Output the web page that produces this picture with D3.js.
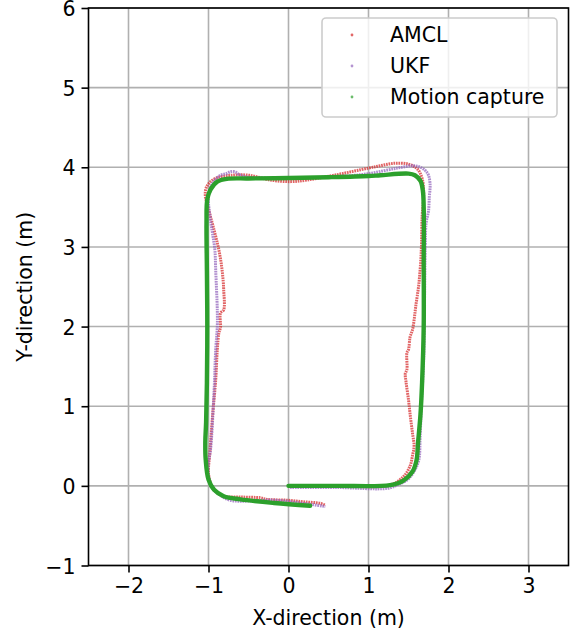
<!DOCTYPE html>
<html>
<head>
<meta charset="utf-8">
<script src="https://cdn.jsdelivr.net/npm/d3@7"></script>
<style>
  html, body { margin: 0; padding: 0; background: #fff; }
  svg { display: block; font-family: "DejaVu Sans", sans-serif; }
</style>
</head>
<body>
<svg id="chart" width="574" height="632"></svg>
<script>
// Trajectory traces [x, y] in metres
const amcl = [
  [0.00,0.00],[0.60,0.00],[1.27,0.01],[1.44,0.12],[1.52,0.25],[1.55,0.38],[1.57,0.50],[1.55,0.66],
  [1.52,0.90],[1.50,1.08],[1.47,1.30],[1.46,1.41],[1.48,1.46],[1.48,1.67],[1.50,1.71],[1.52,1.87],
  [1.55,1.96],[1.57,2.08],[1.59,2.25],[1.63,2.54],[1.66,2.96],[1.67,3.38],[1.69,3.67],[1.67,3.86],
  [1.61,3.98],[1.50,4.04],[1.32,4.05],[1.15,4.02],[1.00,3.99],[0.57,3.90],[0.23,3.84],[0.03,3.82],
  [-0.23,3.84],[-0.49,3.90],[-0.72,3.90],[-0.89,3.87],[-0.975,3.82],[-1.03,3.74],[-1.04,3.64],
  [-1.02,3.55],[-0.93,3.21],[-0.87,2.96],[-0.83,2.71],[-0.81,2.46],[-0.81,2.21],[-0.85,2.17],
  [-0.85,1.99],[-0.87,1.92],[-0.89,1.71],[-0.91,1.33],[-0.95,0.87],[-0.98,0.45],[-1.00,0.16],
  [-0.97,0.02],[-0.93,-0.05],[-0.81,-0.13],[-0.60,-0.14],[-0.35,-0.15],[-0.27,-0.17],[-0.02,-0.18],
  [0.19,-0.20],[0.40,-0.22],[0.46,-0.245]
];
const ukf = [
  [0.02,-0.02],[0.60,-0.02],[1.24,-0.03],[1.38,0.02],[1.49,0.08],[1.58,0.20],[1.63,0.33],[1.645,0.60],
  [1.66,1.00],[1.69,1.60],[1.70,2.30],[1.71,3.00],[1.72,3.30],[1.75,3.45],[1.76,3.62],[1.77,3.78],
  [1.75,3.90],[1.71,3.96],[1.65,4.00],[1.57,4.02],[1.36,3.99],[1.00,3.92],[0.65,3.885],[0.30,3.87],
  [0.00,3.865],[-0.50,3.875],[-0.62,3.91],[-0.66,3.94],[-0.72,3.945],[-0.78,3.92],[-0.85,3.90],
  [-0.95,3.80],[-1.00,3.63],[-0.975,3.34],[-0.95,3.17],[-0.92,2.96],[-0.91,2.71],[-0.89,2.20],
  [-0.89,2.00],[-0.91,1.71],[-0.93,1.20],[-0.975,0.45],[-1.00,0.30],[-1.00,0.12],[-0.95,-0.03],
  [-0.89,-0.09],[-0.73,-0.18],[-0.18,-0.18],[0.19,-0.22],[0.46,-0.26]
];
const mocap = [
  [0.00,0.00],[0.60,0.00],[1.27,0.01],[1.44,0.07],[1.55,0.18],[1.60,0.32],[1.62,0.55],[1.65,0.90],
  [1.67,1.30],[1.69,2.00],[1.69,2.80],[1.69,3.50],[1.68,3.70],[1.65,3.83],[1.58,3.90],[1.50,3.92],
  [1.15,3.90],[1.00,3.89],[0.50,3.875],[0.00,3.865],[-0.50,3.86],[-0.77,3.855],[-0.89,3.82],
  [-0.975,3.72],[-1.015,3.60],[-1.025,3.30],[-1.02,2.70],[-1.015,2.00],[-1.02,1.30],[-1.03,0.80],
  [-1.04,0.55],[-1.035,0.33],[-1.00,0.08],[-0.93,-0.05],[-0.81,-0.13],[-0.60,-0.17],[-0.18,-0.215],
  [0.27,-0.25]
];

const seriesNames = ["AMCL", "UKF", "Motion capture"];
const seriesColors = ["#d62728", "#9467bd", "#2ca02c"];
const xTicks = [-2, -1, 0, 1, 2, 3];
const yTicks = [-1, 0, 1, 2, 3, 4, 5, 6];
const xDomain = [-2.5, 3.5];
const yDomain = [-1, 6];

const svg = d3.select("#chart");
const plotLeft = 88.5, plotRight = 568.5, plotTop = 8, plotBottom = 565.5;
const FS = 20.5;

const x = d3.scaleLinear().domain(xDomain).range([plotLeft, plotRight]);
const y = d3.scaleLinear().domain(yDomain).range([plotBottom, plotTop]);

// grid
const grid = svg.append("g");
grid.selectAll("line.gx").data(xTicks).join("line").attr("class", "gx")
  .attr("x1", d => x(d)).attr("x2", d => x(d)).attr("y1", plotTop).attr("y2", plotBottom)
  .attr("stroke", "#b0b0b0").attr("stroke-width", 1.6);
grid.selectAll("line.gy").data(yTicks).join("line").attr("class", "gy")
  .attr("y1", d => y(d)).attr("y2", d => y(d)).attr("x1", plotLeft).attr("x2", plotRight)
  .attr("stroke", "#b0b0b0").attr("stroke-width", 1.6);

// traces
const line = d3.line().x(d => x(d[0])).y(d => y(d[1])).curve(d3.curveCatmullRom.alpha(0.5));
const plot = svg.append("g");
plot.append("path").datum(amcl).attr("d", line)
  .attr("fill", "none").attr("stroke", seriesColors[0]).attr("stroke-opacity", 0.72)
  .attr("stroke-width", 3).attr("stroke-dasharray", "1.7 0.8");
plot.append("path").datum(ukf).attr("d", line)
  .attr("fill", "none").attr("stroke", seriesColors[1]).attr("stroke-opacity", 0.75)
  .attr("stroke-width", 3).attr("stroke-dasharray", "1.7 0.8");
plot.append("path").datum(mocap).attr("d", line)
  .attr("fill", "none").attr("stroke", seriesColors[2])
  .attr("stroke-width", 4.4).attr("stroke-linejoin", "round").attr("stroke-linecap", "round");

// axes
const xAxis = d3.axisBottom(x).tickValues(xTicks).tickSize(7).tickPadding(6)
  .tickFormat(d3.format("d"));
const yAxis = d3.axisLeft(y).tickValues(yTicks).tickSize(7).tickPadding(6)
  .tickFormat(d3.format("d"));
const gx = svg.append("g").attr("transform", `translate(0,${plotBottom})`).call(xAxis);
const gy = svg.append("g").attr("transform", `translate(${plotLeft},0)`).call(yAxis);
[gx, gy].forEach(g => {
  g.select(".domain").remove();
  g.selectAll(".tick line").attr("stroke", "#000").attr("stroke-width", 1.6);
  g.selectAll(".tick text").attr("fill", "#000").attr("font-size", FS)
    .attr("font-family", "DejaVu Sans");
});
gx.selectAll(".tick text").attr("dy", "0.71em");
gy.selectAll(".tick text").attr("dy", "0.37em");

// frame
svg.append("rect").attr("x", plotLeft).attr("y", plotTop)
  .attr("width", plotRight - plotLeft).attr("height", plotBottom - plotTop)
  .attr("fill", "none").attr("stroke", "#000").attr("stroke-width", 1.6);

// axis titles
svg.append("text").attr("x", (plotLeft + plotRight) / 2).attr("y", 625)
  .attr("text-anchor", "middle").attr("font-size", FS).text("X-direction (m)");
svg.append("text").attr("transform", `translate(32,${(plotTop + plotBottom) / 2}) rotate(-90)`)
  .attr("text-anchor", "middle").attr("font-size", FS).text("Y-direction (m)");

// legend
const lg = svg.append("g");
lg.append("rect").attr("x", 322).attr("y", 18).attr("width", 235).attr("height", 99)
  .attr("rx", 4).attr("fill", "#fff").attr("fill-opacity", 0.8)
  .attr("stroke", "#cccccc").attr("stroke-width", 1.6);
seriesNames.forEach((name, i) => {
  const cy = 35 + i * 31;
  lg.append("circle").attr("cx", 352).attr("cy", cy).attr("r", 1.4)
    .attr("fill", seriesColors[i]).attr("fill-opacity", 0.7);
  lg.append("text").attr("x", 390).attr("y", cy).attr("dy", "0.36em")
    .attr("font-size", FS).text(name);
});
</script>
</body>
</html>
